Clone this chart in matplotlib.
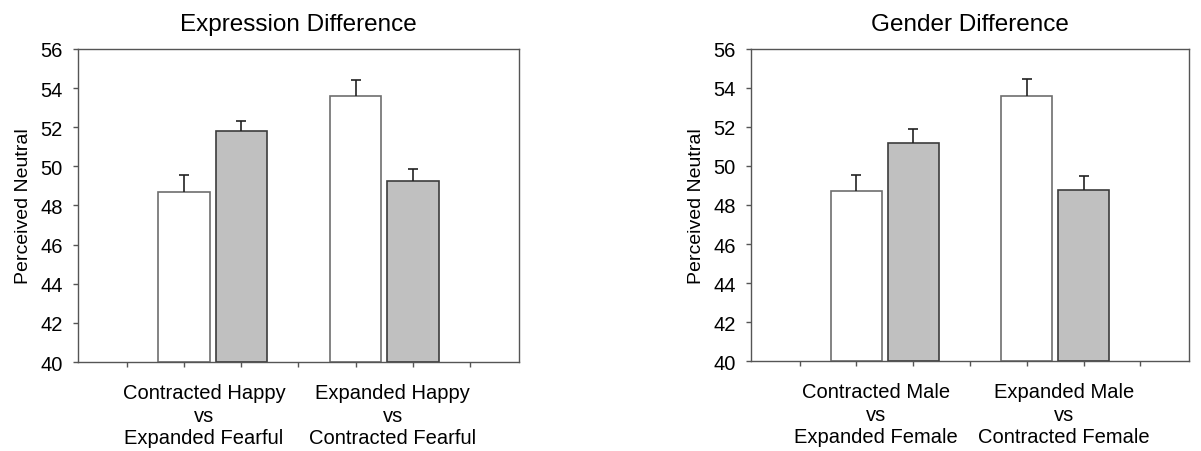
import matplotlib
matplotlib.use('Agg')
import matplotlib.pyplot as plt
import numpy as np

plt.rcParams['font.family'] = ['Liberation Sans', 'DejaVu Sans']

# values
titles = ['Expression Difference', 'Gender Difference']
group_labels = [
    ['Contracted Happy\nvs\nExpanded Fearful', 'Expanded Happy\nvs\nContracted Fearful'],
    ['Contracted Male\nvs\nExpanded Female', 'Expanded Male\nvs\nContracted Female'],
]
white_means = [[48.67, 53.58], [48.70, 53.57]]
white_errs = [[0.87, 0.83], [0.86, 0.89]]
gray_means = [[51.79, 49.27], [51.20, 48.79]]
gray_errs = [[0.51, 0.59], [0.71, 0.70]]

yticks = np.arange(40, 57, 2)

fig = plt.figure(figsize=(12.01, 4.52), dpi=100)
axes = [fig.add_axes([0.0649, 0.1969, 0.3672, 0.6925]),
        fig.add_axes([0.6253, 0.1991, 0.3647, 0.6903])]

width = 0.9
for k, ax in enumerate(axes):
    gx = np.array([1.5, 4.5])
    wx = gx - 0.5
    gr = gx + 0.5
    ax.bar(wx, np.array(white_means[k]) - 40, width, bottom=40, color='white',
           edgecolor='#6e6e6e', linewidth=1.2, zorder=2)
    ax.bar(gr, np.array(gray_means[k]) - 40, width, bottom=40, color='#c0c0c0',
           edgecolor='#3c3c3c', linewidth=1.2, zorder=2)
    for xs, m, e in [(wx, white_means[k], white_errs[k]), (gr, gray_means[k], gray_errs[k])]:
        _, caps, bars = ax.errorbar(xs, m, yerr=[np.zeros(len(e)), e], fmt='none',
                                    ecolor='#222222', elinewidth=1.2, capsize=3.8,
                                    capthick=1.2, zorder=3)
        caps[0].set_visible(False)
        caps[1].set_color('#808080')

    ax.set_xlim(-0.857, 6.857)
    ax.set_ylim(40, 56)
    ax.set_xticks(np.arange(0, 7))
    ax.set_xticklabels([])
    ax.set_yticks(yticks)
    ax.tick_params(axis='both', direction='out', length=3.8, width=1, color='#555555',
                   labelsize=14.5, pad=7)
    for s in ax.spines.values():
        s.set_color('#555555')
        s.set_linewidth(1)
    ax.set_ylabel('Perceived Neutral', fontsize=14, labelpad=6)
    ax.set_title(titles[k], fontsize=17.5, pad=14)
    for x, lab in zip([1.35, 4.65], group_labels[k]):
        ax.text(x, -0.068, lab, transform=ax.get_xaxis_transform(), ha='center',
                va='top', fontsize=14.5, linespacing=1.22)

fig.savefig('out.png', dpi=100)
